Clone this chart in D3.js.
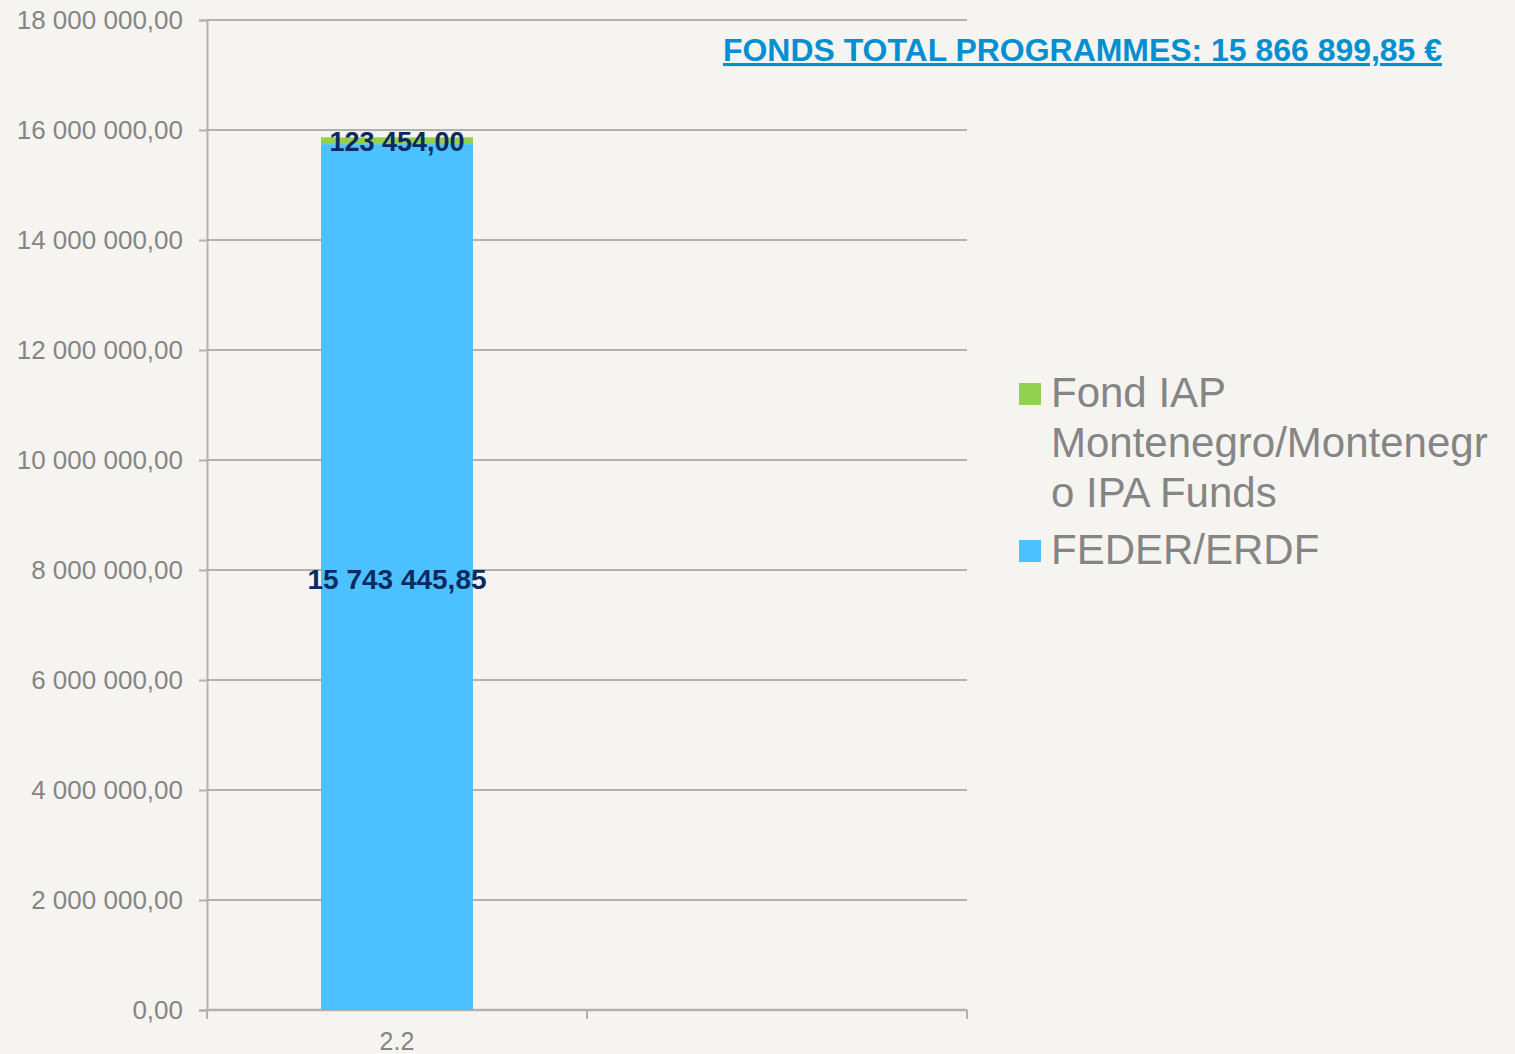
<!DOCTYPE html>
<html>
<head>
<meta charset="utf-8">
<script src="https://cdn.jsdelivr.net/npm/d3@7"></script>
<style>
  html, body { margin: 0; padding: 0; background: #f6f4f0; }
  svg { display: block; font-family: "Liberation Sans", Arial, sans-serif; }
</style>
</head>
<body>
<div id="vis"></div>
<script>
// Data
const categories = ["2.2", ""];
const seriesNames = ["FEDER/ERDF", "Fond IAP Montenegro/Montenegro IPA Funds"];
const erdfValues = [15743445.85, null];
const ipaValues = [123454.00, null];
const yTicks = [0, 2e6, 4e6, 6e6, 8e6, 10e6, 12e6, 14e6, 16e6, 18e6];
const totalLabel = "FONDS TOTAL PROGRAMMES: 15 866 899,85 €";
const legendLines = [["Fond IAP", "Montenegro/Montenegr", "o IPA Funds"], ["FEDER/ERDF"]];

const width = 1515;
const height = 1054;
const margin = { top: 20, right: 548, bottom: 44, left: 207 };

const colors = { erdf: "#4bc1ff", ipa: "#92d050" };
const gridColor = "#b3b1ae";
const textGray = "#858585";
const labelNavy = "#0c2a62";

const svg = d3.select("#vis")
  .append("svg")
  .attr("width", width)
  .attr("height", height);

// Scales
const x = d3.scaleBand()
  .domain(categories.map((c, i) => i))
  .range([margin.left, width - margin.right])
  .padding(0);

const y = d3.scaleLinear()
  .domain([0, 18e6])
  .range([height - margin.bottom, margin.top]);

const fmt = v => {
  const [int, dec] = v.toFixed(2).split(".");
  return int.replace(/\B(?=(\d{3})+(?!\d))/g, " ") + "," + dec;
};

// Gridlines + y axis
const yAxis = svg.append("g")
  .attr("transform", `translate(${margin.left},0)`)
  .call(d3.axisLeft(y).tickValues(yTicks).tickSize(8).tickPadding(16).tickFormat(fmt));
yAxis.select(".domain").attr("stroke", gridColor).attr("stroke-width", 2);
yAxis.selectAll(".tick line").attr("stroke", gridColor).attr("stroke-width", 2);
yAxis.selectAll(".tick text")
  .attr("fill", textGray)
  .attr("font-size", "26px")
  .attr("font-family", "'Liberation Sans', Arial, sans-serif");

svg.append("g")
  .selectAll("line")
  .data(yTicks.filter(t => t > 0))
  .join("line")
  .attr("x1", margin.left)
  .attr("x2", width - margin.right)
  .attr("y1", d => y(d))
  .attr("y2", d => y(d))
  .attr("stroke", gridColor)
  .attr("stroke-width", 2);

// X axis
const xAxisY = y(0);
const edges = [x.range()[0]].concat(categories.map((c, i) => x(i) + x.bandwidth()));
const xg = svg.append("g");
xg.append("line")
  .attr("x1", x.range()[0]).attr("x2", x.range()[1])
  .attr("y1", xAxisY).attr("y2", xAxisY)
  .attr("stroke", gridColor).attr("stroke-width", 2.5);
xg.selectAll("line.tk")
  .data(edges)
  .join("line")
  .attr("class", "tk")
  .attr("x1", d => d).attr("x2", d => d)
  .attr("y1", xAxisY).attr("y2", xAxisY + 9)
  .attr("stroke", gridColor).attr("stroke-width", 2);
xg.selectAll("text")
  .data(categories)
  .join("text")
  .attr("x", (d, i) => x(i) + x.bandwidth() / 2)
  .attr("y", xAxisY + 40)
  .attr("text-anchor", "middle")
  .attr("fill", textGray)
  .attr("font-size", "25px")
  .text(d => d);

// Bars
const barW = x.bandwidth() * 0.4;
const bars = categories.map((c, i) => ({ i, erdf: erdfValues[i], ipa: ipaValues[i] }))
  .filter(d => d.erdf != null);

svg.selectAll("rect.erdf")
  .data(bars)
  .join("rect")
  .attr("class", "erdf")
  .attr("x", d => x(d.i) + (x.bandwidth() - barW) / 2)
  .attr("width", barW)
  .attr("y", d => y(d.erdf))
  .attr("height", d => y(0) - y(d.erdf))
  .attr("fill", colors.erdf);

svg.selectAll("rect.ipa")
  .data(bars)
  .join("rect")
  .attr("class", "ipa")
  .attr("x", d => x(d.i) + (x.bandwidth() - barW) / 2)
  .attr("width", barW)
  .attr("y", d => y(d.erdf + d.ipa))
  .attr("height", d => y(d.erdf) - y(d.erdf + d.ipa))
  .attr("fill", colors.ipa);

// Data labels
svg.selectAll("text.lbl-erdf")
  .data(bars)
  .join("text")
  .attr("class", "lbl-erdf")
  .attr("x", d => x(d.i) + x.bandwidth() / 2)
  .attr("y", d => (y(0) + y(d.erdf)) / 2 + 2)
  .attr("dy", "0.35em")
  .attr("text-anchor", "middle")
  .attr("fill", labelNavy)
  .attr("font-weight", "bold")
  .attr("font-size", "28px")
  .text(d => fmt(d.erdf));

svg.selectAll("text.lbl-ipa")
  .data(bars)
  .join("text")
  .attr("class", "lbl-ipa")
  .attr("x", d => x(d.i) + x.bandwidth() / 2)
  .attr("y", d => (y(d.erdf) + y(d.erdf + d.ipa)) / 2 + 1)
  .attr("dy", "0.35em")
  .attr("text-anchor", "middle")
  .attr("fill", labelNavy)
  .attr("font-weight", "bold")
  .attr("font-size", "27px")
  .text(d => fmt(d.ipa));

// Total title
svg.append("text")
  .attr("x", 723)
  .attr("y", 61)
  .attr("fill", "#0090d2")
  .attr("font-weight", "bold")
  .attr("font-size", "31px")
  .attr("text-decoration", "underline")
  .attr("textLength", 719)
  .attr("lengthAdjust", "spacingAndGlyphs")
  .text(totalLabel);

// Legend
const legend = svg.append("g").attr("transform", "translate(1019, 0)");
const legendItems = [
  { color: colors.ipa, lines: legendLines[0], top: 383 },
  { color: colors.erdf, lines: legendLines[1], top: 540 }
];
legendItems.forEach(item => {
  legend.append("rect")
    .attr("x", 0)
    .attr("y", item.top)
    .attr("width", 22)
    .attr("height", 22)
    .attr("fill", item.color);
  legend.append("text")
    .attr("fill", textGray)
    .attr("font-size", "42px")
    .selectAll("tspan")
    .data(item.lines)
    .join("tspan")
    .attr("x", 32)
    .attr("y", (d, i) => item.top + 24 + i * 50)
    .text(d => d);
});
</script>
</body>
</html>
